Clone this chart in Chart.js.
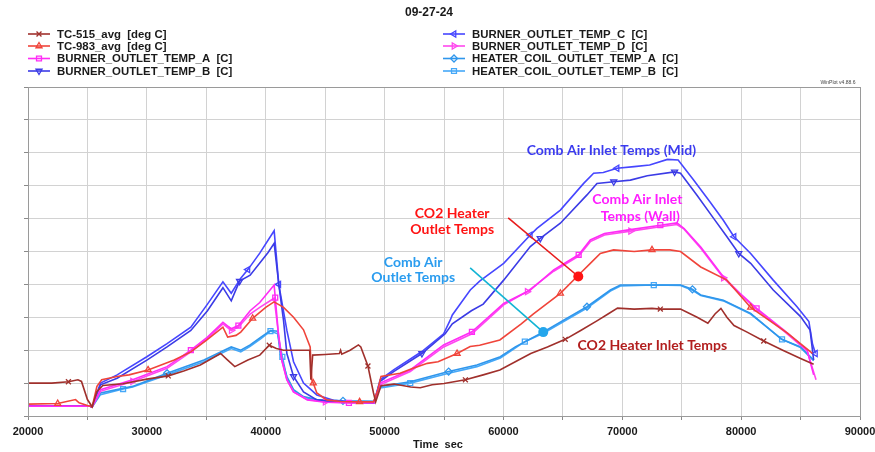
<!DOCTYPE html>
<html>
<head>
<meta charset="utf-8">
<script src="https://cdn.jsdelivr.net/npm/chart.js@4.4.0/dist/chart.umd.min.js"></script>
<style>
  html, body { margin: 0; padding: 0; background: #fff; }
</style>
</head>
<body>
<canvas id="tempChart" width="875" height="452"></canvas>
<script>
// values are [time sec, grid units] - the y axis has no labels, 10 grid divisions
const tc515 = [[20000,1.0],[22000,1.0],[23400,1.04],[24200,1.1],[24500,1.05],[25000,0.5],[25400,0.28],[25800,0.75],[26300,0.93],[28000,0.98],[30000,1.12],[31800,1.22],[33100,1.37],[34500,1.55],[36200,1.9],[36800,1.7],[37400,1.5],[38500,1.7],[39500,1.85],[40300,2.15],[40900,2.05],[41500,2.0],[43700,2.0],[43800,1.1],[43950,1.85],[45000,1.87],[46200,1.9],[46300,2.0],[46400,1.88],[47100,2.0],[47800,2.16],[48000,2.1],[48600,1.52],[49070,0.7],[49250,0.43],[49700,0.92],[50800,0.97],[52200,0.88],[53000,0.86],[54000,0.95],[55000,0.99],[56800,1.1],[58300,1.25],[59700,1.4],[61000,1.65],[62300,1.9],[63700,2.1],[65200,2.33],[66500,2.6],[67900,2.9],[68800,3.1],[69600,3.28],[71000,3.25],[72500,3.27],[73200,3.25],[74900,3.25],[76300,3.0],[77200,2.82],[77800,3.1],[78300,3.27],[78800,3.0],[79400,2.75],[80500,2.55],[81900,2.28],[83500,2.0],[85000,1.75],[86100,1.57]];
const tc983 = [[20000,0.36],[22500,0.38],[24000,0.5],[24300,0.4],[25000,0.32],[25400,0.28],[25800,0.9],[26200,1.1],[27500,1.2],[28500,1.25],[30100,1.4],[32300,1.7],[33700,1.95],[35000,2.3],[36400,2.7],[36800,2.4],[37500,2.45],[37900,2.55],[38900,2.97],[40000,3.3],[40700,3.47],[41500,3.3],[42340,3.0],[43180,2.62],[43740,2.1],[43880,1.1],[44000,1.0],[44300,0.7],[45140,0.49],[46300,0.44],[47900,0.43],[49070,0.43],[49400,0.75],[49700,1.2],[51300,1.3],[52400,1.45],[53600,1.6],[54500,1.65],[56100,1.9],[57200,2.11],[58000,2.15],[59700,2.31],[61500,2.8],[62500,3.1],[64790,3.73],[66470,4.34],[67310,4.64],[68150,4.94],[69270,5.05],[71000,5.0],[72500,5.05],[74000,5.05],[74900,5.0],[76600,4.53],[78800,4.13],[80800,3.3],[83900,2.52],[86000,1.9]];
const burnerA = [[20000,0.3],[25200,0.3],[25400,0.28],[26100,0.8],[28800,1.1],[31700,1.5],[33700,2.0],[35100,2.4],[36400,2.85],[37100,2.65],[37700,2.75],[38690,3.2],[39500,3.45],[40710,3.98],[40800,3.6],[41070,2.5],[41350,1.7],[41780,1.1],[42340,0.73],[43500,0.49],[45000,0.42],[47000,0.4],[49100,0.4],[49630,1.0],[52160,1.4],[54970,2.16],[57350,2.56],[60020,3.42],[62260,3.83],[64230,4.44],[66330,4.9],[67310,5.35],[68500,5.55],[70400,5.65],[73200,5.8],[74600,5.87],[75200,5.7],[76600,5.14],[78500,4.23],[79900,3.73],[81300,3.27],[83600,2.61],[85550,2.0],[86100,1.25]];
const burnerB = [[20000,0.3],[25200,0.3],[25400,0.28],[26100,0.95],[27500,1.15],[30000,1.7],[31700,2.1],[33700,2.6],[35100,3.2],[36400,3.9],[37100,3.5],[37800,4.1],[38690,4.28],[40200,4.97],[40710,5.25],[41100,4.0],[41500,2.9],[41780,1.9],[42340,1.2],[43180,0.73],[44300,0.49],[46000,0.42],[49100,0.4],[49630,1.05],[50760,1.35],[53140,1.9],[55100,2.5],[55700,2.8],[57300,3.2],[58300,3.4],[60020,4.13],[62260,5.15],[63100,5.4],[64790,5.86],[67030,6.72],[67870,7.07],[69280,7.12],[70680,7.17],[72100,7.3],[74400,7.42],[74900,7.38],[76300,6.7],[77700,6.0],[78700,5.5],[79800,4.94],[80800,4.64],[82700,3.83],[85000,3.02],[85800,2.61],[86100,1.7]];
const burnerC = [[20000,0.3],[25200,0.3],[25400,0.28],[26100,1.0],[27500,1.25],[30000,1.8],[31700,2.2],[33700,2.7],[35100,3.4],[36400,4.08],[37100,3.73],[37900,4.19],[38500,4.45],[39500,4.95],[40710,5.63],[41100,4.0],[41780,2.6],[42340,1.65],[43180,1.0],[44300,0.64],[45700,0.48],[47500,0.42],[49100,0.4],[49630,1.1],[50760,1.4],[53140,1.96],[54970,2.5],[55530,2.92],[55700,3.07],[57210,3.83],[58000,4.1],[60020,4.64],[62260,5.5],[62820,5.7],[64790,6.26],[66750,7.07],[67590,7.38],[68400,7.4],[69560,7.53],[71000,7.58],[72300,7.63],[73800,7.8],[74700,7.78],[76000,7.17],[77400,6.5],[78500,5.95],[79400,5.45],[80800,4.94],[82700,4.13],[84700,3.32],[85700,2.87],[86000,2.2],[86250,1.9]];
const burnerD = [[20000,0.3],[25200,0.3],[25400,0.28],[26100,0.75],[28800,1.05],[31700,1.45],[33700,1.95],[35100,2.35],[36400,2.8],[37100,2.6],[37700,2.7],[38690,3.1],[39500,3.3],[40710,3.58],[41070,2.5],[41350,1.7],[41780,1.1],[42340,0.73],[43500,0.5],[45000,0.43],[49100,0.42],[49630,0.95],[52160,1.35],[54970,2.1],[57350,2.5],[60020,3.38],[62000,3.78],[64230,4.4],[66330,4.86],[67310,5.3],[68500,5.5],[70700,5.62],[73200,5.75],[74600,5.82],[75200,5.68],[76600,5.1],[78500,4.2],[79900,3.7],[81300,3.24],[83600,2.58],[85550,1.98],[86300,1.1]];
const heaterA = [[20000,0.3],[25200,0.3],[25400,0.28],[26100,0.7],[28800,0.9],[31700,1.3],[34800,1.7],[37100,2.1],[37900,2.0],[38690,2.16],[39600,2.4],[40400,2.6],[41000,2.58],[41215,1.9],[41780,1.2],[42340,0.8],[43180,0.59],[44300,0.5],[46500,0.46],[49100,0.45],[49630,0.9],[52160,1.04],[55390,1.35],[57770,1.55],[59740,1.8],[61000,2.1],[63400,2.56],[65100,2.92],[67030,3.32],[69000,3.83],[69840,3.98],[72600,3.98],[74900,3.98],[75900,3.85],[76600,3.68],[78500,3.52],[80800,3.12],[83400,2.33],[85000,2.1],[86100,1.7]];
const heaterB = [[20000,0.3],[25200,0.3],[25400,0.28],[26100,0.65],[28000,0.82],[28800,0.88],[31700,1.25],[34800,1.65],[37100,2.05],[37900,1.95],[38690,2.12],[39600,2.35],[40400,2.58],[41000,2.5],[41400,1.8],[41780,1.15],[42340,0.78],[43180,0.57],[44300,0.48],[46500,0.45],[49100,0.44],[49630,0.85],[52160,1.0],[55390,1.3],[57770,1.5],[59740,1.76],[61800,2.26],[63400,2.52],[65100,2.88],[67030,3.28],[69000,3.8],[69840,3.95],[72650,3.98],[74900,3.97],[75900,3.82],[76600,3.66],[78500,3.5],[80800,3.1],[83440,2.33],[85000,2.08],[86100,1.68]];

// where each series shows its symbol (time sec)
const marks515 = [23400, 31800, 40300, 48600, 56800, 65200, 73200, 81900];
const marks983 = [22500, 30100, 38900, 44000, 47900, 56100, 64790, 72500, 80800];
const marksA = [33700, 37700, 40800, 47000, 57350, 66330, 73200, 81300];
const marksB = [37800, 42340, 53140, 63100, 69280, 74400, 79800];
const marksC = [38500, 41100, 62260, 69560, 79400, 86250];
const marksD = [28800, 37100, 45000, 62000, 70700, 78500];
const marksHA = [31700, 46500, 55390, 67030, 75900];
const marksHB = [28000, 40400, 41400, 52160, 61800, 72650, 83440];

const seriesNames = [
    'TC-515_avg  [deg C]', 'TC-983_avg  [deg C]', 'BURNER_OUTLET_TEMP_A  [C]', 'BURNER_OUTLET_TEMP_B  [C]',
    'BURNER_OUTLET_TEMP_C  [C]', 'BURNER_OUTLET_TEMP_D  [C]', 'HEATER_COIL_OUTLET_TEMP_A  [C]', 'HEATER_COIL_OUTLET_TEMP_B  [C]'
];
const xTicks = [20000, 30000, 40000, 50000, 60000, 70000, 80000, 90000];

// callout texts, placed in data coordinates
const callouts = [
    { text: 'Comb Air Inlet Temps (Mid)', x: 69080, y: 8.08, color: '#3b3bef' },
    { text: 'Comb Air Inlet', x: 71270, y: 6.57, color: '#ff1eff' },
    { text: 'Temps (Wall)', x: 71520, y: 6.05, color: '#ff1eff' },
    { text: 'CO2 Heater', x: 55690, y: 6.17, color: '#ff1414' },
    { text: 'Outlet Temps', x: 55690, y: 5.68, color: '#ff1414' },
    { text: 'Comb Air', x: 52410, y: 4.68, color: '#2a9cef' },
    { text: 'Outlet Temps', x: 52410, y: 4.22, color: '#2a9cef' },
    { text: 'CO2 Heater Inlet Temps', x: 72530, y: 2.13, color: '#b21e1e' }
];
const pointers = [
    { from: [60400, 6.02], to: [66300, 4.24], color: '#e81c1c', dot: '#ff1414' },
    { from: [57200, 4.5], to: [63350, 2.55], color: '#12b4d4', dot: '#24a6ec' }
];

const toXY = arr => arr.map(([x, y]) => ({ x, y }));

function makeSet(idx, rows, marks, color, style, rot) {
    return {
        label: seriesNames[idx],
        data: toXY(rows),
        borderColor: color,
        borderWidth: 1.6,
        pointStyle: style,
        pointRotation: rot,
        pointRadius: c => (c.raw && marks.includes(c.raw.x)) ? 3.5 : 0,
        pointBorderColor: color,
        pointBackgroundColor: 'rgba(255,255,255,0)',
        pointBorderWidth: 1.3,
        pointHoverRadius: 0,
        tension: 0,
        fill: false
    };
}

const datasets = [
    makeSet(0, tc515, marks515, '#a0302c', 'crossRot', 0),
    makeSet(1, tc983, marks983, '#f0443a', 'triangle', 0),
    makeSet(2, burnerA, marksA, '#ff2cf6', 'rect', 0),
    makeSet(3, burnerB, marksB, '#3b3be6', 'triangle', 180),
    makeSet(4, burnerC, marksC, '#4646ff', 'triangle', 270),
    makeSet(5, burnerD, marksD, '#ff48ee', 'triangle', 90),
    makeSet(6, heaterA, marksHA, '#2f96ec', 'rectRot', 0),
    makeSet(7, heaterB, marksHB, '#45a8f8', 'rect', 0)
];

const decorations = {
    id: 'decorations',
    afterDraw(chart) {
        const { ctx, chartArea: a, scales } = chart;
        const xs = scales.x, ys = scales.y;
        ctx.save();

        // frame
        ctx.strokeStyle = '#9a9a9a';
        ctx.lineWidth = 1;
        ctx.strokeRect(a.left + 0.5, a.top + 0.5, a.right - a.left, a.bottom - a.top);

        // title
        ctx.fillStyle = '#1a1a1a';
        ctx.font = 'bold 12px "Liberation Sans", Arial, sans-serif';
        ctx.textAlign = 'center';
        ctx.textBaseline = 'middle';
        ctx.fillText('09-27-24', 429, 13);

        // legend, two columns
        ctx.font = 'bold 11.4px "Liberation Sans", Arial, sans-serif';
        ctx.textAlign = 'left';
        const rowsY = [34, 46, 58.5, 71];
        chart.data.datasets.forEach((ds, i) => {
            const col = i < 4 ? 0 : 1;
            const lx = col === 0 ? 28 : 443;
            const tx = col === 0 ? 57 : 472;
            const y = rowsY[i % 4];
            ctx.strokeStyle = ds.borderColor;
            ctx.lineWidth = 1.6;
            ctx.beginPath();
            ctx.moveTo(lx, y);
            ctx.lineTo(lx + 22, y);
            ctx.stroke();
            ctx.lineWidth = 1.3;
            ctx.fillStyle = 'rgba(255,255,255,0)';
            Chart.helpers.drawPoint(ctx, { pointStyle: ds.pointStyle, rotation: ds.pointRotation, radius: 3.5, borderWidth: 1.3 }, lx + 11, y);
            ctx.fillStyle = '#1a1a1a';
            ctx.fillText(ds.label, tx, y + 0.5);
        });

        // program stamp
        ctx.font = '5px "Liberation Sans", Arial, sans-serif';
        ctx.fillStyle = '#444';
        ctx.textAlign = 'center';
        ctx.fillText('WinPlot v4.88.6', 838, 83);

        // axis title
        ctx.font = 'bold 11px "Liberation Sans", Arial, sans-serif';
        ctx.fillStyle = '#1a1a1a';
        ctx.fillText('Time  sec', 438, 445);

        // pointer lines with dots
        pointers.forEach(p => {
            const x1 = xs.getPixelForValue(p.from[0]), y1 = ys.getPixelForValue(p.from[1]);
            const x2 = xs.getPixelForValue(p.to[0]), y2 = ys.getPixelForValue(p.to[1]);
            ctx.strokeStyle = p.color;
            ctx.lineWidth = 1.6;
            ctx.beginPath();
            ctx.moveTo(x1, y1);
            ctx.lineTo(x2, y2);
            ctx.stroke();
            ctx.fillStyle = p.dot;
            ctx.beginPath();
            ctx.arc(x2, y2, 5, 0, Math.PI * 2);
            ctx.fill();
        });

        // callout texts
        ctx.font = 'bold 14px Lato, "Open Sans", sans-serif';
        callouts.forEach(c => {
            ctx.fillStyle = c.color;
            ctx.fillText(c.text, xs.getPixelForValue(c.x), ys.getPixelForValue(c.y));
        });

        ctx.restore();
    }
};

new Chart(document.getElementById('tempChart').getContext('2d'), {
    type: 'line',
    data: { datasets },
    plugins: [decorations],
    options: {
        responsive: false,
        animation: false,
        layout: { padding: { top: 87, right: 15, left: 0, bottom: 0 } },
        plugins: {
            legend: { display: false },
            title: { display: false },
            tooltip: { enabled: false }
        },
        scales: {
            x: {
                type: 'linear',
                min: 20000,
                max: 90000,
                afterFit: s => { s.height = 36; s.paddingLeft = 0; s.paddingRight = 0; },
                afterBuildTicks: s => {
                    const t = [];
                    for (let v = 20000; v <= 90000; v += 5000) t.push({ value: v });
                    s.ticks = t;
                },
                ticks: {
                    autoSkip: false,
                    maxRotation: 0,
                    padding: 5,
                    color: '#1a1a1a',
                    font: { family: '"Liberation Sans", Arial, sans-serif', size: 11, weight: 'bold' },
                    callback: v => xTicks.includes(v) ? String(v) : ''
                },
                grid: { color: '#d2d2d2', tickColor: '#8a8a8a', tickLength: 4 },
                border: { color: '#8a8a8a' }
            },
            y: {
                min: 0,
                max: 10,
                afterFit: s => { s.width = 28; },
                ticks: { display: false, stepSize: 1 },
                grid: { color: '#d2d2d2', tickColor: '#8a8a8a', tickLength: 4 },
                border: { color: '#8a8a8a' }
            }
        }
    }
});
</script>
</body>
</html>
